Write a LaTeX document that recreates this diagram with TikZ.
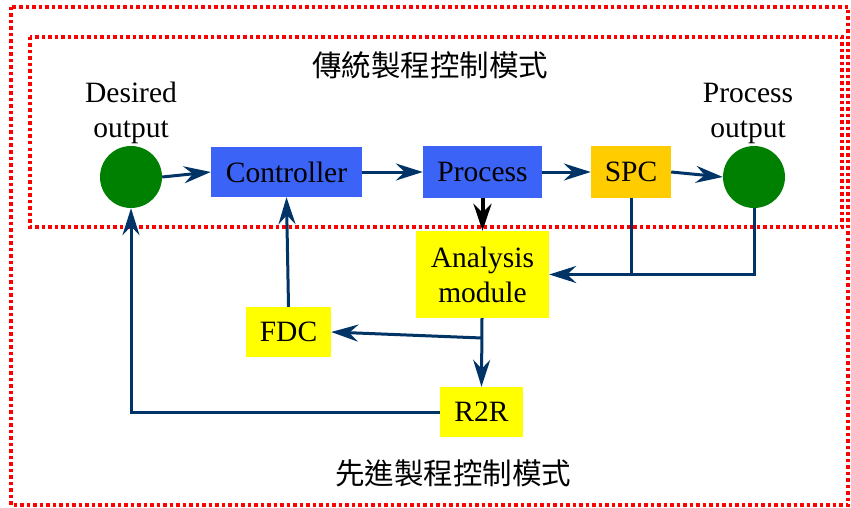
\documentclass[tikz,border=0pt]{standalone}
\usepackage{fontspec}
\setmainfont{Liberation Serif}
\newfontfamily\cjk{Noto Sans CJK TC}
\usetikzlibrary{arrows.meta}

\definecolor{boxblue}{RGB}{59,99,245}
\definecolor{spcorange}{RGB}{255,204,0}
\definecolor{boxyellow}{RGB}{255,255,0}
\definecolor{dotgreen}{RGB}{0,128,0}
\definecolor{linknavy}{RGB}{0,51,102}
\definecolor{framered}{RGB}{255,0,0}

\tikzset{
  txt/.style={font=\fontsize{29.5}{35}\selectfont, inner sep=0pt, align=center},
  block/.style={txt, minimum width=#1, minimum height=50pt},
  blueblock/.style={block=#1, fill=boxblue},
  yellowblock/.style={block=#1, fill=boxyellow},
  endpoint/.style={circle, fill=dotgreen, minimum size=62pt, inner sep=0pt},
  link/.style={draw=linknavy, line width=3pt,
    -{Stealth[length=27pt, width=17pt, inset=9pt]}},
  plainlink/.style={draw=linknavy, line width=3pt},
  frame/.style={draw=framered, line width=3.3pt, dash pattern=on 3.5pt off 3pt},
  cjktitle/.style={font=\cjk\fontsize{29.5}{35}\selectfont, inner sep=0pt}
}

\begin{document}
\begin{tikzpicture}[x=1pt, y=-1pt]
  \useasboundingbox (0,0) rectangle (851,508);

  % dotted frames: advanced control (outer) and traditional control (inner)
  \draw[frame] (11,7) rectangle (848,505);
  \draw[frame] (30,37) rectangle (842,227);

  \node[cjktitle] (tradtitle) at (430,65) {傳統製程控制模式};
  \node[cjktitle] (advtitle) at (453,473) {先進製程控制模式};

  % main loop
  \node[endpoint] (des) at (131,177) {};
  \node[txt] (deslabel) at (131,112.5) {Desired\\output};
  \node[blueblock=151pt] (ctrl) at (286.5,172) {Controller};
  \node[blueblock=119pt, minimum height=52pt] (proc) at (482.5,172) {Process};
  \node[block=80pt, minimum height=52pt, fill=spcorange] (spc) at (631,172) {SPC};
  \node[endpoint] (pout) at (754,177) {};
  \node[txt] (poutlabel) at (748,113) {Process\\output};

  % analysis and feedback blocks
  \node[yellowblock=133pt, minimum height=87pt] (ana) at (482.5,274.5) {Analysis\\module};
  \node[yellowblock=85pt] (fdc) at (288.5,332) {FDC};
  \node[yellowblock=83pt] (r2r) at (481.5,412) {R2R};
  \coordinate (split) at (482,338);

  % connectors
  \draw[link] (des.east) -- (ctrl.west);
  \draw[link] (ctrl.east) -- (proc.west);
  \draw[link] (proc.east) -- (spc.west);
  \draw[link] (spc.east) -- (pout.west);
  \draw[line width=4pt, -{Stealth[length=27pt, width=18pt, inset=9pt]}]
    (proc.south) -- (ana.north);
  \draw[plainlink] (spc.south) -- (spc.south |- ana.east);
  \draw[link] (pout.south) |- (ana.east);
  \draw[link] (split |- ana.south) -- (r2r.north);
  \draw[link] (split) -- (fdc.east);
  \draw[link] (fdc.north) -- (ctrl.south);
  \draw[link] (r2r.west) -| (des.south);
\end{tikzpicture}
\end{document}
